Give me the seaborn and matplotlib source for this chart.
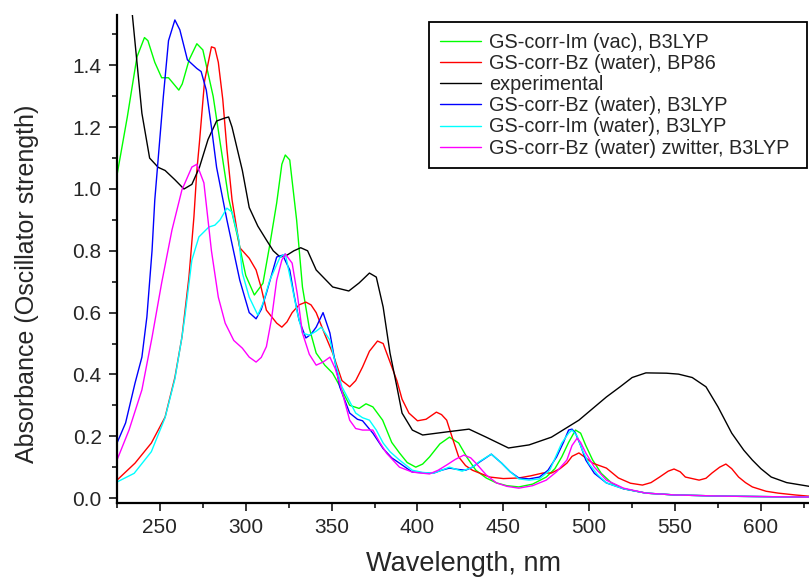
import numpy as np
import pandas as pd
import matplotlib
matplotlib.use("Agg")
import matplotlib.pyplot as plt
from matplotlib.ticker import MultipleLocator
import seaborn as sns

series_names = [
    "GS-corr-Im (vac), B3LYP",
    "GS-corr-Bz (water), BP86",
    "experimental",
    "GS-corr-Bz (water), B3LYP",
    "GS-corr-Im (water), B3LYP",
    "GS-corr-Bz (water) zwitter, B3LYP",
]
series_colors = ["#00ff00", "#ff0000", "#000000", "#0000ff", "#00ffff", "#ff00ff"]

green_x = [225, 231, 236.6, 241, 243, 247, 251, 255, 258, 261, 263, 267, 271.5, 275, 281, 286.6, 290, 294.8, 300, 305,
           310, 314, 318, 321, 323, 325.6, 329.6, 333, 337, 341, 346, 350.6, 355, 360.5, 366, 370, 374, 379.7, 385,
           389.5, 394, 399, 403, 407, 413, 418.6, 424, 429, 434, 440, 446, 452, 459, 467, 475, 480, 484, 488, 492,
           495, 498, 502, 507, 513, 520, 533, 550, 580, 630]
green_y = [1.045, 1.233, 1.427, 1.49, 1.48, 1.41, 1.36, 1.36, 1.34, 1.32, 1.34, 1.418, 1.47, 1.45, 1.3, 1.094, 0.97,
           0.856, 0.72, 0.657, 0.695, 0.82, 0.955, 1.08, 1.11, 1.094, 0.9, 0.683, 0.55, 0.469, 0.43, 0.404, 0.36, 0.3,
           0.29, 0.305, 0.295, 0.252, 0.18, 0.146, 0.115, 0.1, 0.11, 0.133, 0.175, 0.197, 0.178, 0.13, 0.09, 0.065,
           0.049, 0.04, 0.036, 0.045, 0.068, 0.095, 0.133, 0.18, 0.22, 0.21, 0.17, 0.123, 0.08, 0.049, 0.03, 0.016,
           0.01, 0.006, 0.003]

red_x = [225, 235.5, 245, 253, 258.7, 262.8, 266.9, 269.8, 271.5, 273, 276, 280, 282, 284, 286.6, 289, 292, 296.5,
         302, 306, 309, 312, 318, 321, 324, 327, 331, 335, 338, 341, 346, 350.6, 356, 360.5, 364, 368, 372, 376.7,
         380, 384, 388, 391, 395, 400, 405, 411, 414, 417, 420, 424, 428, 432, 442, 450, 459, 466, 473, 478, 483,
         487, 490, 494, 498, 502, 510, 517, 524, 531, 536, 541, 546, 549.4, 553, 556, 564, 568, 571.5, 576, 579.6,
         583, 587, 591, 595, 603, 610, 620, 630]
red_y = [0.058, 0.113, 0.178, 0.262, 0.39, 0.52, 0.715, 0.91, 1.06, 1.15, 1.35, 1.46, 1.456, 1.41, 1.29, 1.13, 0.965,
         0.81, 0.776, 0.738, 0.68, 0.608, 0.566, 0.553, 0.57, 0.6, 0.625, 0.634, 0.625, 0.6, 0.53, 0.469, 0.38, 0.36,
         0.38, 0.424, 0.475, 0.508, 0.5, 0.44, 0.38, 0.32, 0.275, 0.25, 0.255, 0.278, 0.27, 0.252, 0.2, 0.133, 0.105,
         0.09, 0.068, 0.063, 0.065, 0.072, 0.081, 0.081, 0.095, 0.113, 0.135, 0.146, 0.13, 0.113, 0.097, 0.065, 0.048,
         0.042, 0.05, 0.068, 0.087, 0.094, 0.085, 0.068, 0.058, 0.064, 0.081, 0.1, 0.11, 0.095, 0.068, 0.05, 0.036,
         0.022, 0.016, 0.01, 0.005]

exp_x = [225, 230, 234, 239.5, 244, 249, 253, 258.7, 264, 268.6, 273, 278, 283, 288, 290, 292, 295, 298, 302, 307,
         312, 316, 320, 324, 328, 332, 336, 341, 350.6, 360, 366, 372, 376, 380, 384, 388, 391, 397, 403, 417, 430,
         440, 453, 465, 478, 494, 510, 518, 525, 533, 545, 552, 560, 568, 575, 583, 590, 595, 600, 606, 615, 627, 630]
exp_y = [2.2, 1.85, 1.56, 1.245, 1.10, 1.07, 1.06, 1.03, 1.0, 1.015, 1.07, 1.16, 1.22, 1.23, 1.233, 1.2, 1.13, 1.06,
         0.94, 0.88, 0.835, 0.80, 0.78, 0.786, 0.80, 0.81, 0.80, 0.738, 0.683, 0.67, 0.696, 0.728, 0.715, 0.618,
         0.469, 0.36, 0.275, 0.22, 0.204, 0.214, 0.223, 0.197, 0.162, 0.172, 0.197, 0.252, 0.327, 0.36, 0.39, 0.405,
         0.404, 0.401, 0.39, 0.36, 0.295, 0.21, 0.155, 0.123, 0.095, 0.068, 0.05, 0.039, 0.036]

blue_x = [225, 230, 235.5, 239.5, 242.4, 245.4, 247, 249.4, 252, 255, 258.7, 261.6, 266, 271.5, 274, 277, 280, 283,
          289, 296.5, 302, 306, 309, 312, 318, 321.5, 325.6, 328, 331, 335, 338, 341, 345, 349, 352, 354.7, 360.5, 365,
          368, 374, 380, 385, 389.5, 397, 403, 409, 414, 418.6, 423, 428, 432, 436, 443, 449, 454, 459, 465, 471, 476,
          481, 485, 488, 490, 492, 495, 498, 503, 510, 520, 533, 550, 580, 630]
blue_y = [0.178, 0.243, 0.372, 0.456, 0.586, 0.8, 0.964, 1.126, 1.3, 1.48, 1.547, 1.515, 1.418, 1.39, 1.38, 1.32, 1.2,
          1.07, 0.9, 0.705, 0.6, 0.58, 0.61, 0.663, 0.78, 0.786, 0.738, 0.66, 0.576, 0.518, 0.53, 0.553, 0.6, 0.534,
          0.44, 0.36, 0.275, 0.255, 0.25, 0.21, 0.16, 0.13, 0.113, 0.084, 0.082, 0.08, 0.09, 0.097, 0.093, 0.09, 0.1,
          0.116, 0.142, 0.113, 0.085, 0.065, 0.062, 0.068, 0.09, 0.133, 0.18, 0.22, 0.223, 0.21, 0.17, 0.123, 0.08,
          0.049, 0.03, 0.016, 0.01, 0.006, 0.003]

cyan_x = [225, 235, 245, 253, 258.7, 262.8, 264.5, 268.6, 272.7, 278.5, 282, 285, 289, 292, 296, 298, 302, 307, 310,
          314, 320, 323, 327, 330, 333, 337, 341, 344, 349, 352, 356, 364, 368, 372, 376, 380, 384, 389.5, 397, 403,
          409, 414, 418.6, 423, 426, 432, 436, 443, 449, 454, 459, 465, 471, 477, 484, 488, 490, 493, 496, 500, 505,
          510, 520, 533, 550, 580, 630]
cyan_y = [0.052, 0.08, 0.15, 0.26, 0.385, 0.52, 0.586, 0.77, 0.845, 0.877, 0.883, 0.9, 0.938, 0.925, 0.835, 0.728,
          0.65, 0.592, 0.63, 0.705, 0.78, 0.79, 0.683, 0.6, 0.534, 0.527, 0.54, 0.553, 0.511, 0.44, 0.36, 0.275, 0.26,
          0.252, 0.22, 0.178, 0.15, 0.123, 0.09, 0.083, 0.08, 0.09, 0.1, 0.092, 0.087, 0.1, 0.118, 0.142, 0.113, 0.085,
          0.062, 0.058, 0.062, 0.09, 0.178, 0.21, 0.22, 0.2, 0.155, 0.11, 0.075, 0.049, 0.03, 0.016, 0.01, 0.006, 0.003]

magenta_x = [225, 232, 239.5, 245.4, 251, 257, 262.8, 268.6, 271.5, 275.6, 280, 284, 288, 293, 298, 302, 306, 309,
             312, 315, 318, 321, 323, 327, 330, 333, 337, 341, 345, 349, 352, 354.7, 360.5, 364, 368, 374, 378, 382,
             389.5, 397, 407, 412, 417, 422, 427, 431, 434, 440, 446, 452, 459, 467, 475, 481, 487, 490, 493, 495, 498,
             503, 510, 520, 533, 550, 580, 630]
magenta_y = [0.123, 0.22, 0.35, 0.52, 0.696, 0.867, 0.997, 1.071, 1.08, 1.02, 0.8, 0.65, 0.566, 0.51, 0.485, 0.456,
             0.44, 0.455, 0.49, 0.58, 0.705, 0.77, 0.79, 0.76, 0.66, 0.534, 0.465, 0.43, 0.44, 0.456, 0.42, 0.372,
             0.252, 0.225, 0.22, 0.22, 0.18, 0.145, 0.1, 0.084, 0.078, 0.09, 0.107, 0.125, 0.139, 0.13, 0.113, 0.075,
             0.049, 0.038, 0.032, 0.04, 0.058, 0.085, 0.123, 0.17, 0.194, 0.18, 0.146, 0.1, 0.058, 0.032, 0.016, 0.01,
             0.006, 0.003]

xs = [green_x, red_x, exp_x, blue_x, cyan_x, magenta_x]
ys = [green_y, red_y, exp_y, blue_y, cyan_y, magenta_y]

frames = []
for name, x, y in zip(series_names, xs, ys):
    frames.append(pd.DataFrame({"Wavelength": x, "Absorbance": y, "series": name}))
df = pd.concat(frames, ignore_index=True)

sns.set_style("ticks")
plt.rcParams["font.family"] = ["Liberation Sans", "DejaVu Sans"]

fig = plt.figure(figsize=(8.09, 5.78), dpi=100)
ax = fig.add_axes([117 / 809, 1 - 503 / 578, (809 - 117) / 809, (503 - 15) / 578])

sns.lineplot(data=df, x="Wavelength", y="Absorbance", hue="series", hue_order=series_names,
             palette=dict(zip(series_names, series_colors)), estimator=None, sort=False,
             linewidth=1.0, ax=ax, legend=True)

ax.set_xlim(225, 628)
ax.set_ylim(-0.016, 1.563)
ax.xaxis.set_major_locator(MultipleLocator(50))
ax.xaxis.set_minor_locator(MultipleLocator(25))
ax.yaxis.set_major_locator(MultipleLocator(0.2))
ax.yaxis.set_minor_locator(MultipleLocator(0.1))
ax.yaxis.set_major_formatter(matplotlib.ticker.FormatStrFormatter("%.1f"))
ax.tick_params(which="major", direction="out", length=6, width=1.3, labelsize=15, pad=5)
ax.tick_params(which="minor", direction="out", length=3.5, width=1.3)
for s in ["top", "right"]:
    ax.spines[s].set_visible(False)
for s in ["left", "bottom"]:
    ax.spines[s].set_linewidth(1.6)
    ax.spines[s].set_color("black")

ax.set_xlabel("Wavelength, nm", fontsize=19.5, labelpad=10)
ax.set_ylabel("Absorbance (Oscillator strength)", fontsize=18)
ax.yaxis.set_label_coords(-0.113, 0.45)

handles, labels = ax.get_legend_handles_labels()
x0 = (429 - 117) / 692
w = (807 - 429) / 692
ytop = 1 - (22 - 15) / 488
ybot = 1 - (165 - 15) / 488
leg = ax.legend(handles, labels, loc="upper left", bbox_to_anchor=(x0, ybot, w, ytop - ybot),
                mode="expand", borderaxespad=0,
                fontsize=14.3, frameon=True, fancybox=False, edgecolor="black", framealpha=1,
                handlelength=2.1, handletextpad=0.4, labelspacing=0.11, borderpad=0.54)
leg.get_frame().set_linewidth(1.3)
for h in leg.get_lines():
    h.set_linewidth(1.0)

fig.savefig("out.png", dpi=100)
